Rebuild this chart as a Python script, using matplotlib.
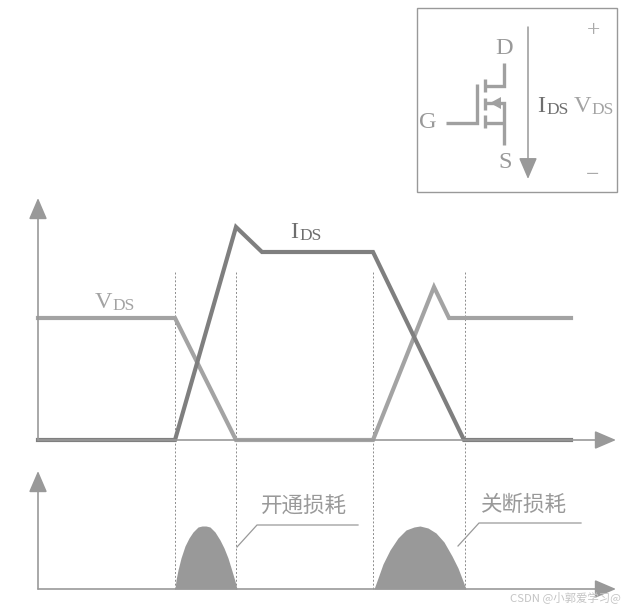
import matplotlib
matplotlib.use('Agg')
import matplotlib.pyplot as plt
from matplotlib.patches import Polygon

W, H = 625, 608

# waveforms, x is time from the origin, y is height over the axis
vds_t = [0, 137, 198, 335, 396, 411, 533]
vds_v = [122, 122, 0, 0, 153, 122, 122]
ids_t = [0, 137, 198, 224, 335, 426, 533]
ids_v = [0, 0, 213, 188, 188, 0, 0]

# switching loss humps
on_t = [137, 138, 140, 143, 147, 151, 155, 160, 164, 168, 172, 177, 182, 186, 190, 194, 197, 199]
on_p = [0, 9, 19, 31, 43, 51, 57, 62, 63, 63, 62, 57, 49, 41, 31, 18, 8, 0]
off_t = [336, 340, 345, 352, 360, 368, 376, 382, 390, 398, 406, 414, 420, 425, 428]
off_p = [0, 11, 25, 39, 51, 59, 62, 63, 61, 56, 47, 33, 21, 8, 0]

edges = [137, 198, 335, 427]
labels_on = '开通损耗'
labels_off = '关断损耗'

AXIS = '#999999'
IDS = '#7f7f7f'
VDS = '#a3a3a3'
SERIF = 'Liberation Serif'
CJK = ['Noto Sans CJK SC', 'DejaVu Sans']


def make_axes(x0, x1, y_top, y_bottom):
    a = fig.add_axes([x0 / W, 1 - y_bottom / H, (x1 - x0) / W, (y_bottom - y_top) / H])
    a.set_xlim(x0, x1)
    a.set_ylim(y_bottom, y_top)
    a.axis('off')
    a.patch.set_alpha(0)
    return a


def arrow(a, start, end, lw=1.2):
    a.annotate('', xy=end, xytext=start, annotation_clip=False,
               arrowprops=dict(arrowstyle='-|>,head_length=1.05,head_width=0.45', mutation_scale=12.5,
                               color=AXIS, lw=lw, shrinkA=0, shrinkB=0))


def sub_label(a, x, y, main, sub, color):
    a.text(x, y, main, family=SERIF, fontsize=17.5, color=color, ha='left', va='baseline')
    a.text(x + (9 if main == 'I' else 17), y + 2, sub, family=SERIF, fontsize=12.5, color=color,
           ha='left', va='baseline')


fig = plt.figure(figsize=(W / 100, H / 100), dpi=100, facecolor='white')

# upper plot, uses its own value scale
ax = fig.add_axes([38 / W, 1 - 440 / H, 578 / W, 242 / H])
ax.set_xlim(0, 578)
ax.set_ylim(0, 242)
ax.axis('off')
ax.patch.set_alpha(0)
arrow(ax, (0, 0), (0, 242))
arrow(ax, (0, 0), (578, 0))
ax.vlines(edges, -149, 168, color='#8c8c8c', lw=0.7, linestyles=(0, (2, 2)), clip_on=False)
ax.plot(vds_t, vds_v, color=VDS, lw=3.0, solid_joinstyle='miter', clip_on=False)
ax.plot(ids_t, ids_v, color=IDS, lw=3.0, solid_joinstyle='miter', clip_on=False)

# lower plot
ax2 = fig.add_axes([38 / W, 1 - 589 / H, 578 / W, 118 / H])
ax2.set_xlim(0, 578)
ax2.set_ylim(0, 118)
ax2.axis('off')
ax2.patch.set_alpha(0)
arrow(ax2, (0, 0), (0, 118))
arrow(ax2, (0, 0), (578, 0))
ax2.fill_between(on_t, on_p, color='#999999', lw=0)
ax2.fill_between(off_t, off_p, color='#999999', lw=0)

# everything else is placed in picture pixels
page = make_axes(0, W, 0, H)
sub_label(page, 95, 308, 'V', 'DS', VDS)
sub_label(page, 290, 238, 'I', 'DS', '#6e6e6e')
page.plot([237, 257, 358], [547, 525, 525], color=AXIS, lw=0.9)
page.plot([458, 479, 581], [546, 523, 523], color=AXIS, lw=0.9)
page.text(304, 507, labels_on, family=CJK, fontsize=15.5, color='#999999', ha='center', va='center')
page.text(524, 505, labels_off, family=CJK, fontsize=15.5, color='#999999', ha='center', va='center')
page.text(621, 597, 'CSDN @小郭爱学习@', family=CJK, fontsize=8.2, color='#c4c4c4', ha='right', va='center')

# MOSFET box
box = make_axes(417, 617, 8, 192)
box.add_patch(plt.Rectangle((417, 8), 200, 184, fill=False, ec=AXIS, lw=1.0, clip_on=False))
sym = dict(color='#a0a0a0', lw=2.4, solid_capstyle='butt', solid_joinstyle='miter')
box.plot([504, 504, 485], [63, 86, 86], **sym)
box.plot([485, 504, 504], [103, 103, 145], **sym)
box.plot([485, 504], [123, 123], **sym)
box.plot([446, 477, 477], [123, 123, 84], **sym)
box.plot([485, 485], [79, 92], **sym)
box.plot([485, 485], [98, 110], **sym)
box.plot([485, 485], [115, 128], **sym)
box.add_patch(Polygon([(490, 103), (501, 97), (501, 109)], color='#a0a0a0', lw=0))
arrow(box, (528, 27), (528, 179), lw=1.1)
for x, y, s in [(504, 48, 'D'), (505, 163, 'S'), (428, 123, 'G')]:
    box.text(x, y, s, family=SERIF, fontsize=17.5, color='#999999', ha='center', va='center')
box.text(593, 31, '+', family=SERIF, fontsize=17, color='#aaaaaa', ha='center', va='center')
box.text(593, 176, '−', family=SERIF, fontsize=17, color='#aaaaaa', ha='center', va='center')
sub_label(box, 537, 112, 'I', 'DS', '#6e6e6e')
sub_label(box, 574, 112, 'V', 'DS', VDS)

fig.savefig('out.png', dpi=100)
